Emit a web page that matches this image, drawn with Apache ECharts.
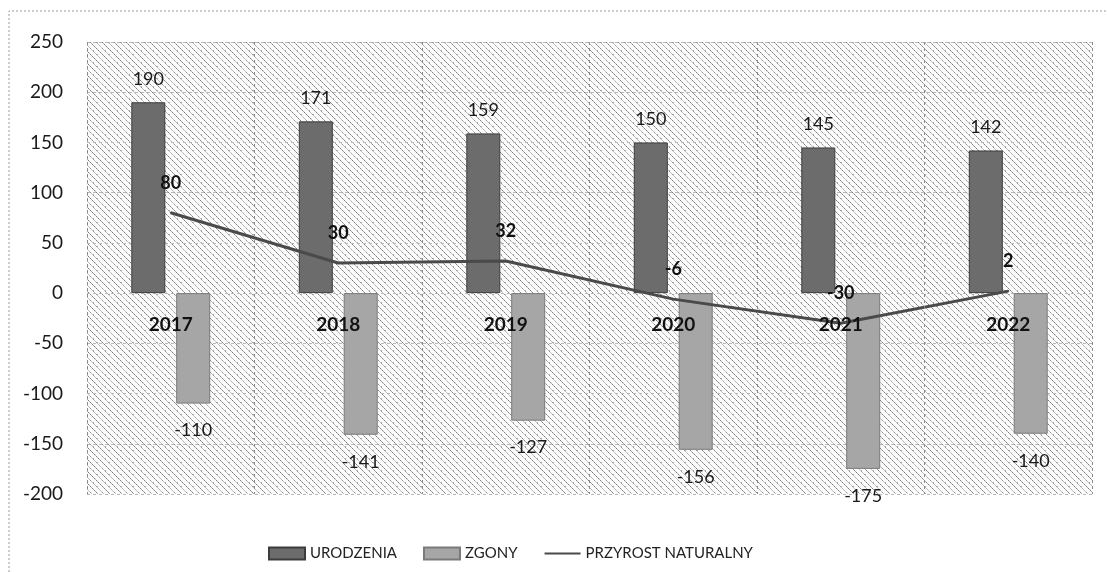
<!DOCTYPE html>
<html>
<head>
<meta charset="utf-8">
<script src="https://cdn.jsdelivr.net/npm/echarts@6/dist/echarts.min.js"></script>
<style>
  html, body { margin: 0; padding: 0; background: #fff; }
  #main { width: 1108px; height: 572px; }
</style>
</head>
<body>
<div id="main"></div>
<script>
// dane z wykresu
var years = ['2017', '2018', '2019', '2020', '2021', '2022'];
var urodzenia = [190, 171, 159, 150, 145, 142];
var zgony = [-110, -141, -127, -156, -175, -140];
var przyrost = [80, 30, 32, -6, -30, 2];

var FONT = 'Lato, "Liberation Sans", sans-serif';

// szrafura tla (ukosne kropkowane linie jak na skanie)
function makeHatch() {
    var c = document.createElement('canvas');
    c.width = 12; c.height = 12;
    var ctx = c.getContext('2d');
    ctx.fillStyle = '#fbfbfb';
    ctx.fillRect(0, 0, 12, 12);
    for (var i = 0; i < 12; i++) {
        ctx.fillStyle = (i % 2 == 0) ? '#7e7e7e' : '#a8a8a8';
        ctx.fillRect(i, i, 1, 1);
        ctx.fillStyle = (i % 3 == 0) ? '#959595' : '#c0c0c0';
        ctx.fillRect((i + 6) % 12, i, 1, 1);
    }
    ctx.fillStyle = '#b0b0b0';
    ctx.fillRect(3, 9, 1, 1);
    ctx.fillRect(9, 2, 1, 1);
    ctx.fillRect(1, 6, 1, 1);
    return c;
}

var myChart = echarts.init(document.getElementById('main'));

var option = {
    backgroundColor: '#ffffff',
    animation: false,
    textStyle: { fontFamily: FONT },
    graphic: [{
        type: 'polyline',
        shape: { points: [[9, 572], [9, 11], [1108, 11]] },
        style: { stroke: '#9a9a9a', lineWidth: 1, lineDash: [2, 2], fill: null },
        silent: true
    }],
    grid: {
        left: 87,
        right: 16,
        top: 42,
        bottom: 78,
        show: true,
        borderWidth: 0,
        backgroundColor: { image: makeHatch(), repeat: 'repeat' }
    },
    legend: {
        top: 541,
        left: 263,
        itemWidth: 36,
        itemHeight: 12,
        itemGap: 26,
        textStyle: { fontSize: 15, color: '#222', fontFamily: FONT },
        data: [
            { name: 'URODZENIA', icon: 'rect' },
            { name: 'ZGONY', icon: 'rect' },
            { name: 'PRZYROST NATURALNY', itemStyle: { color: 'rgba(0,0,0,0)', borderWidth: 0 } }
        ]
    },
    xAxis: {
        type: 'category',
        data: years,
        z: 10,
        axisLine: { show: false, onZero: true },
        axisTick: { show: false },
        axisLabel: {
            margin: -179,
            fontSize: 19,
            fontWeight: 'bold',
            color: '#111',
            fontFamily: FONT
        },
        splitLine: {
            show: true,
            lineStyle: { color: '#8a8a8a', type: [3, 3], width: 1 }
        }
    },
    yAxis: {
        type: 'value',
        min: -200,
        max: 250,
        interval: 50,
        axisLine: { show: false },
        axisTick: { show: false },
        axisLabel: { margin: 24, fontSize: 19, color: '#1a1a1a', fontFamily: FONT },
        splitLine: {
            show: true,
            lineStyle: { color: '#b8b8b8', type: [3, 3], width: 1 }
        }
    },
    series: [
        {
            name: 'URODZENIA',
            type: 'bar',
            data: urodzenia,
            barWidth: 34,
            barGap: '32%',
            itemStyle: { color: '#6c6c6c', borderColor: '#3c3c3c', borderWidth: 1 },
            label: {
                show: true,
                position: 'top',
                distance: 14,
                fontSize: 18,
                color: '#1a1a1a',
                fontFamily: FONT
            },
            z: 2
        },
        {
            name: 'ZGONY',
            type: 'bar',
            data: zgony,
            barWidth: 34,
            itemStyle: { color: '#a6a6a6', borderColor: '#7a7a7a', borderWidth: 1 },
            label: {
                show: true,
                position: 'bottom',
                distance: 18,
                fontSize: 18,
                color: '#1a1a1a',
                fontFamily: FONT
            },
            z: 2
        },
        {
            name: 'PRZYROST NATURALNY',
            type: 'line',
            data: przyrost,
            symbol: 'circle',
            symbolSize: 2,
            itemStyle: { color: '#4a4a4a' },
            lineStyle: { color: '#4a4a4a', width: 3 },
            label: {
                show: true,
                position: 'top',
                distance: 20,
                fontSize: 18,
                fontWeight: 'bold',
                color: '#111',
                fontFamily: FONT
            },
            z: 3
        }
    ]
};

myChart.setOption(option);

window.addEventListener('resize', function () {
    myChart.resize();
});
</script>
</body>
</html>
